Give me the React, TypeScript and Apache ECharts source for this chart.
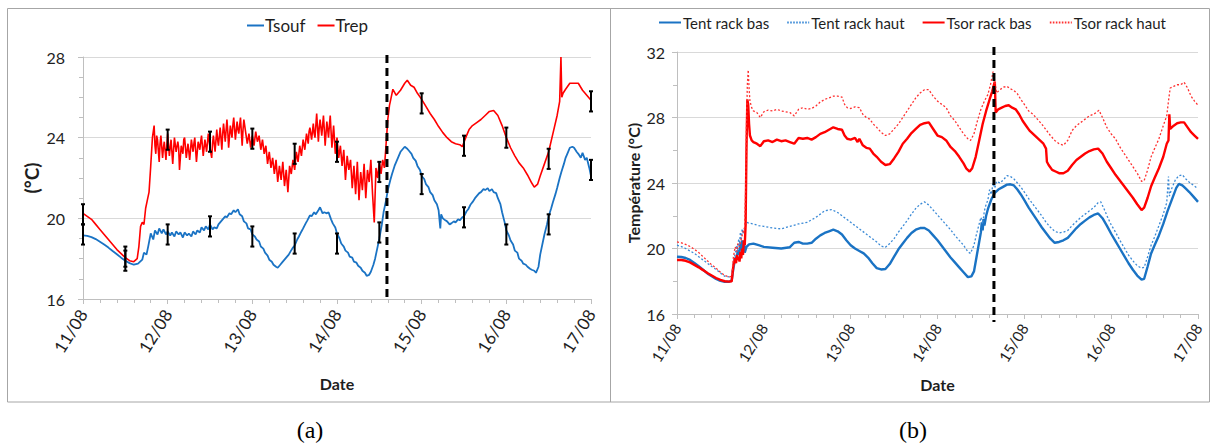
import React, { useEffect, useRef } from "react";
import * as echarts from "echarts";

const dateLabels = ["11/08", "12/08", "13/08", "14/08", "15/08", "16/08", "17/08"];

// ---- Chart (a) ----
const tsouf: number[][] = [
  [0, 19.15], [0.05, 19.13], [0.1, 19.07], [0.15, 18.97], [0.2, 18.84], [0.25, 18.7], [0.3, 18.55], [0.35, 18.38], [0.4, 18.22], [0.45, 18.05],
  [0.5, 17.9], [0.55, 17.78], [0.6, 17.7], [0.65, 17.75], [0.7, 17.95], [0.72, 18.3], [0.75, 18.2], [0.77, 18.6], [0.8, 19.25], [0.83, 18.95],
  [0.85, 19.4], [0.88, 19.2], [0.9, 19.5], [0.93, 19.25], [0.95, 19.45], [0.98, 19.2], [1.0, 19.35], [1.03, 19.15], [1.05, 19.3], [1.08, 19.1],
  [1.1, 19.35], [1.13, 19.2], [1.15, 19.3], [1.18, 19.05], [1.2, 19.3], [1.23, 19.15], [1.25, 19.25], [1.28, 19.1], [1.3, 19.35], [1.33, 19.2],
  [1.35, 19.4], [1.38, 19.3], [1.4, 19.55], [1.43, 19.4], [1.45, 19.6], [1.48, 19.45], [1.5, 19.7], [1.53, 19.45], [1.55, 19.55], [1.58, 19.5],
  [1.6, 19.7], [1.63, 19.85], [1.65, 19.95], [1.68, 20.1], [1.7, 20.05], [1.73, 20.25], [1.75, 20.2], [1.78, 20.4], [1.8, 20.3], [1.83, 20.45],
  [1.85, 20.2], [1.88, 20.1], [1.9, 19.85], [1.93, 19.75], [1.95, 19.5], [1.98, 19.45], [2.0, 19.2], [2.03, 19.1], [2.05, 18.95], [2.08, 18.85],
  [2.1, 18.6], [2.13, 18.5], [2.15, 18.3], [2.18, 18.15], [2.2, 17.95], [2.23, 17.85], [2.25, 17.7], [2.28, 17.6], [2.3, 17.55], [2.33, 17.7],
  [2.35, 17.8], [2.38, 17.95], [2.4, 18.05], [2.43, 18.2], [2.45, 18.35], [2.48, 18.55], [2.5, 18.65], [2.53, 18.95], [2.55, 19.1], [2.58, 19.35],
  [2.6, 19.5], [2.63, 19.75], [2.65, 19.9], [2.68, 20.15], [2.7, 20.1], [2.73, 20.3], [2.75, 20.2], [2.78, 20.4], [2.8, 20.55], [2.83, 20.25],
  [2.85, 20.3], [2.88, 20.25], [2.9, 20.3], [2.93, 19.95], [2.95, 19.75], [2.98, 19.55], [3.0, 19.25], [3.03, 19.0], [3.05, 18.75], [3.08, 18.6],
  [3.1, 18.4], [3.13, 18.3], [3.15, 18.1], [3.18, 18.05], [3.2, 17.85], [3.23, 17.8], [3.25, 17.65], [3.28, 17.55], [3.3, 17.4], [3.33, 17.3],
  [3.35, 17.15], [3.38, 17.2], [3.4, 17.35], [3.43, 17.7], [3.45, 18.0], [3.48, 18.6], [3.5, 19.0], [3.53, 19.7], [3.55, 20.3], [3.58, 20.9],
  [3.6, 21.4], [3.63, 21.9], [3.65, 22.2], [3.68, 22.6], [3.7, 22.8], [3.73, 23.1], [3.75, 23.3], [3.78, 23.45], [3.8, 23.55], [3.83, 23.45],
  [3.85, 23.35], [3.88, 23.2], [3.9, 23.0], [3.93, 22.85], [3.95, 22.6], [3.98, 22.4], [4.0, 22.1], [4.03, 21.95], [4.05, 21.7], [4.08, 21.55],
  [4.1, 21.3], [4.13, 21.15], [4.15, 20.9], [4.18, 20.7], [4.2, 20.4], [4.22, 19.5], [4.23, 20.2], [4.25, 20.0], [4.28, 19.9], [4.3, 19.85],
  [4.33, 19.7], [4.35, 19.75], [4.38, 19.85], [4.4, 19.8], [4.43, 19.95], [4.45, 19.9], [4.48, 20.05], [4.5, 20.1], [4.53, 20.35], [4.55, 20.45],
  [4.58, 20.7], [4.6, 20.8], [4.63, 21.0], [4.65, 21.1], [4.68, 21.25], [4.7, 21.3], [4.73, 21.45], [4.75, 21.4], [4.78, 21.5], [4.8, 21.35],
  [4.83, 21.45], [4.85, 21.3], [4.88, 21.25], [4.9, 21.0], [4.93, 20.7], [4.95, 20.3], [4.98, 19.8], [5.0, 19.4], [5.03, 19.15], [5.05, 18.9],
  [5.08, 18.7], [5.1, 18.4], [5.13, 18.3], [5.15, 18.0], [5.18, 17.9], [5.2, 17.75], [5.23, 17.7], [5.25, 17.6], [5.28, 17.5], [5.3, 17.45],
  [5.33, 17.4], [5.35, 17.3], [5.38, 17.6], [5.4, 18.2], [5.43, 18.8], [5.45, 19.2], [5.48, 19.7], [5.5, 20.1], [5.53, 20.5], [5.55, 20.8],
  [5.58, 21.2], [5.6, 21.5], [5.63, 22.0], [5.65, 22.3], [5.68, 22.7], [5.7, 23.0], [5.73, 23.3], [5.75, 23.5], [5.78, 23.55], [5.8, 23.5],
  [5.83, 23.3], [5.85, 23.2], [5.88, 23.0], [5.9, 23.25], [5.93, 22.9], [5.95, 23.0], [5.98, 22.5], [6.0, 22.1],
];

const trep: number[][] = [
  [0, 20.25], [0.05, 20.1], [0.1, 19.95], [0.15, 19.7], [0.2, 19.45], [0.25, 19.2], [0.3, 18.95], [0.35, 18.7], [0.4, 18.45], [0.45, 18.25],
  [0.5, 18.05], [0.55, 17.9], [0.6, 17.85], [0.64, 18.0], [0.66, 18.6], [0.68, 19.6], [0.7, 19.8], [0.72, 19.7], [0.74, 20.5], [0.76, 20.9],
  [0.78, 21.3], [0.8, 22.6], [0.82, 24.0],
  [0.84, 24.6], [0.85, 23.6], [0.86, 23.2], [0.87, 24.1], [0.88, 23.9], [0.9, 22.8], [0.91, 23.7], [0.92, 24.1], [0.94, 23.0], [0.95, 23.5],
  [0.96, 23.8], [0.98, 22.9], [0.99, 23.6], [1.0, 24.2], [1.02, 23.1], [1.03, 23.5], [1.04, 23.9], [1.06, 22.7], [1.07, 23.4], [1.08, 24.0],
  [1.1, 23.3], [1.12, 23.8], [1.13, 23.5], [1.14, 22.4], [1.16, 23.6], [1.18, 23.2], [1.19, 23.9], [1.2, 24.0], [1.22, 23.0], [1.24, 23.7],
  [1.25, 23.3], [1.26, 22.9], [1.28, 23.9], [1.3, 23.3], [1.31, 23.7], [1.32, 24.0], [1.34, 22.8], [1.36, 23.8], [1.38, 23.4], [1.39, 23.8],
  [1.4, 24.1], [1.42, 23.1], [1.44, 23.9], [1.45, 23.6], [1.46, 23.3], [1.48, 24.2], [1.5, 23.5], [1.52, 23.0], [1.53, 23.7], [1.54, 24.1],
  [1.56, 23.3], [1.58, 24.4], [1.59, 23.9], [1.6, 23.6], [1.62, 24.5], [1.64, 23.4], [1.65, 24.2], [1.66, 24.7], [1.68, 23.8], [1.7, 24.9],
  [1.71, 24.3], [1.72, 23.5], [1.74, 24.6], [1.76, 24.0], [1.77, 24.6], [1.78, 25.0], [1.8, 23.9], [1.82, 24.8], [1.83, 24.4], [1.84, 24.2],
  [1.86, 25.0], [1.88, 23.6], [1.89, 24.4], [1.9, 24.9], [1.92, 24.3], [1.94, 23.7], [1.96, 24.2], [1.98, 23.5], [2.0, 24.1], [2.02, 23.6],
  [2.04, 24.3], [2.06, 23.8], [2.08, 24.1], [2.1, 23.4], [2.12, 23.9], [2.14, 23.2], [2.16, 23.6], [2.18, 22.7], [2.2, 23.3], [2.22, 22.5],
  [2.24, 23.0], [2.26, 22.2], [2.28, 22.9], [2.3, 21.8], [2.32, 22.6], [2.34, 21.9], [2.36, 22.8], [2.38, 21.6], [2.4, 22.4], [2.42, 21.3],
  [2.44, 22.6], [2.46, 22.2], [2.48, 22.9], [2.5, 22.4], [2.52, 23.3], [2.54, 22.8], [2.56, 23.6], [2.58, 23.1], [2.6, 23.9], [2.62, 23.4],
  [2.64, 24.2], [2.66, 23.7], [2.67, 24.3], [2.68, 24.5], [2.7, 23.9], [2.72, 24.7], [2.73, 24.2], [2.74, 24.0], [2.76, 25.2], [2.78, 23.8],
  [2.79, 24.5], [2.8, 24.9], [2.82, 24.1], [2.84, 25.1], [2.85, 24.4], [2.86, 23.6], [2.88, 24.8], [2.9, 24.0], [2.91, 24.6], [2.92, 25.1],
  [2.94, 23.5], [2.96, 24.6], [2.98, 23.2], [3.0, 24.0], [3.02, 23.0], [3.04, 23.6], [3.06, 22.6], [3.08, 23.4], [3.1, 21.9], [3.12, 23.1],
  [3.14, 22.4], [3.16, 22.9], [3.18, 21.5], [3.2, 22.6], [3.22, 21.2], [3.24, 22.8], [3.26, 20.9], [3.28, 22.3], [3.3, 21.4], [3.32, 22.7],
  [3.34, 21.0], [3.36, 22.4], [3.38, 21.8], [3.4, 22.9], [3.42, 21.2], [3.44, 19.8], [3.46, 22.5], [3.48, 22.0], [3.5, 22.8], [3.52, 22.2],
  [3.54, 22.9], [3.56, 22.5], [3.58, 23.7], [3.6, 24.9], [3.62, 25.6],
  [3.64, 26.0], [3.66, 26.4], [3.7, 26.1], [3.75, 26.35], [3.8, 26.7], [3.83, 26.85], [3.87, 26.6], [3.91, 26.5], [3.95, 26.2], [4.0, 25.9],
  [4.05, 25.55], [4.1, 25.2], [4.15, 24.9], [4.2, 24.55], [4.25, 24.25], [4.3, 24.0], [4.35, 23.8], [4.4, 23.7], [4.45, 23.65], [4.48, 23.55],
  [4.52, 24.0], [4.56, 24.4], [4.6, 24.6], [4.65, 24.75], [4.7, 24.9], [4.75, 25.1], [4.8, 25.3], [4.85, 25.35], [4.9, 25.1], [4.95, 24.6],
  [5.0, 24.0], [5.05, 23.5], [5.1, 23.1], [5.15, 22.75], [5.2, 22.5], [5.25, 22.15], [5.3, 21.75], [5.33, 21.55], [5.37, 21.7], [5.4, 22.1],
  [5.45, 22.7], [5.5, 23.3], [5.55, 24.2], [5.6, 25.1], [5.63, 25.8], [5.645, 28.0], [5.655, 26.0], [5.67, 26.2], [5.7, 26.4], [5.75, 26.7],
  [5.8, 26.7], [5.85, 26.7], [5.9, 26.35], [5.95, 26.1], [6.0, 25.85],
];

const errDays = [0, 0.5, 1, 1.5, 2, 2.5, 3, 3.5, 4, 4.5, 5, 5.5, 6];
const tsoufErrCenter = [19.2, 17.9, 19.2, 19.6, 19.1, 18.75, 18.75, 19.3, 21.7, 20.05, 19.2, 19.7, 22.4];
const trepErrCenter = [20.2, 18.1, 23.9, 23.8, 23.95, 23.2, 23.3, 22.3, 25.7, 23.6, 24.0, 22.95, 25.8];
const errHalf = 0.5;
const switchDayA = 3.59;

// ---- Chart (b) ----
const tentBas: number[][] = [
  [0, 19.5], [0.05, 19.48], [0.1, 19.42], [0.15, 19.3], [0.2, 19.12], [0.25, 18.92], [0.3, 18.7], [0.35, 18.48], [0.4, 18.3], [0.45, 18.14],
  [0.5, 18.02], [0.55, 17.97], [0.6, 17.97], [0.63, 18.05], [0.65, 18.8], [0.67, 19.4], [0.69, 19.5], [0.7, 19.9], [0.71, 19.6], [0.72, 19.8],
  [0.73, 20.3], [0.74, 19.9], [0.75, 20.5], [0.76, 19.9], [0.77, 20.4], [0.78, 19.75], [0.8, 20.1], [0.83, 20.25], [0.88, 20.3], [0.94, 20.2],
  [1.0, 20.1], [1.1, 20.05], [1.2, 20.0], [1.3, 20.08], [1.35, 20.35], [1.4, 20.4], [1.45, 20.3], [1.5, 20.3], [1.55, 20.35], [1.6, 20.6],
  [1.65, 20.8], [1.7, 20.95], [1.75, 21.05], [1.8, 21.15], [1.85, 21.05], [1.9, 20.85], [1.95, 20.5], [2.0, 20.2], [2.05, 20.0], [2.1, 19.85],
  [2.15, 19.7], [2.2, 19.45], [2.25, 19.1], [2.3, 18.8], [2.35, 18.72], [2.4, 18.75], [2.45, 19.05], [2.5, 19.5], [2.55, 19.95], [2.6, 20.3],
  [2.65, 20.65], [2.7, 20.95], [2.75, 21.15], [2.8, 21.25], [2.85, 21.25], [2.9, 21.1], [2.95, 20.8], [3.0, 20.5], [3.05, 20.15], [3.1, 19.8],
  [3.15, 19.45], [3.2, 19.15], [3.25, 18.85], [3.3, 18.55], [3.35, 18.25], [3.39, 18.3], [3.42, 18.6], [3.45, 19.5], [3.48, 20.4], [3.5, 21.0],
  [3.51, 21.6], [3.52, 21.1], [3.53, 21.8], [3.54, 21.4], [3.56, 22.0], [3.58, 22.4], [3.62, 23.0], [3.66, 23.4], [3.7, 23.6], [3.75, 23.75],
  [3.8, 23.9], [3.84, 23.92], [3.88, 23.85], [3.92, 23.6], [3.96, 23.3], [4.0, 22.95], [4.05, 22.5], [4.1, 22.1], [4.15, 21.7], [4.2, 21.3],
  [4.25, 20.95], [4.3, 20.6], [4.35, 20.35], [4.4, 20.4], [4.45, 20.5], [4.5, 20.65], [4.55, 20.95], [4.6, 21.25], [4.65, 21.5], [4.7, 21.7],
  [4.75, 21.9], [4.8, 22.05], [4.85, 22.14], [4.9, 21.85], [4.95, 21.4], [5.0, 20.9], [5.05, 20.45], [5.1, 20.0], [5.15, 19.55], [5.2, 19.1],
  [5.25, 18.7], [5.3, 18.35], [5.35, 18.1], [5.38, 18.15], [5.42, 18.9], [5.46, 19.7], [5.5, 20.2], [5.55, 20.8], [5.6, 21.5], [5.65, 22.3],
  [5.7, 23.0], [5.75, 23.7], [5.78, 23.95], [5.82, 23.85], [5.86, 23.65], [5.9, 23.45], [5.95, 23.15], [6.0, 22.85],
];

const tentHaut: number[][] = [
  [0, 20.2], [0.05, 20.12], [0.1, 20.0], [0.15, 19.85], [0.2, 19.7], [0.25, 19.5], [0.3, 19.3], [0.35, 19.1], [0.4, 18.9], [0.45, 18.72],
  [0.5, 18.5], [0.55, 18.3], [0.6, 18.27], [0.63, 18.35], [0.65, 19.2], [0.67, 19.7], [0.69, 20.2], [0.7, 19.8], [0.71, 20.6], [0.72, 20.2],
  [0.73, 21.0], [0.74, 20.5], [0.75, 21.2], [0.76, 20.9], [0.78, 21.3], [0.8, 21.6], [0.83, 21.55], [0.88, 21.5], [0.94, 21.4], [1.0, 21.35],
  [1.1, 21.25], [1.2, 21.2], [1.3, 21.35], [1.4, 21.5], [1.5, 21.6], [1.6, 21.9], [1.65, 22.1], [1.7, 22.3], [1.78, 22.38], [1.85, 22.2],
  [1.9, 22.0], [1.95, 21.8], [2.0, 21.6], [2.05, 21.4], [2.1, 21.2], [2.15, 21.0], [2.2, 20.8], [2.25, 20.6], [2.3, 20.4], [2.35, 20.15],
  [2.4, 20.07], [2.45, 20.3], [2.5, 20.6], [2.55, 21.0], [2.6, 21.35], [2.65, 21.7], [2.7, 22.1], [2.75, 22.45], [2.8, 22.7], [2.85, 22.85],
  [2.9, 22.65], [2.95, 22.35], [3.0, 22.05], [3.05, 21.75], [3.1, 21.45], [3.15, 21.15], [3.2, 20.8], [3.25, 20.5], [3.3, 20.2], [3.35, 19.8],
  [3.38, 19.7], [3.42, 20.2], [3.45, 20.9], [3.48, 21.5], [3.5, 21.9], [3.52, 21.5], [3.54, 22.3], [3.56, 22.7], [3.58, 22.95], [3.6, 23.6],
  [3.62, 23.3], [3.64, 24.0], [3.66, 23.7], [3.68, 24.1], [3.72, 24.0], [3.76, 24.2], [3.8, 24.45], [3.84, 24.4], [3.88, 24.25], [3.92, 24.0],
  [3.96, 23.75], [4.0, 23.45], [4.05, 23.05], [4.1, 22.7], [4.15, 22.35], [4.2, 22.0], [4.25, 21.6], [4.3, 21.3], [4.35, 21.05], [4.4, 20.95],
  [4.45, 21.0], [4.5, 21.1], [4.55, 21.4], [4.6, 21.65], [4.65, 21.9], [4.7, 22.1], [4.75, 22.3], [4.8, 22.5], [4.85, 22.8], [4.88, 22.85],
  [4.92, 22.4], [4.96, 21.9], [5.0, 21.45], [5.05, 21.0], [5.1, 20.5], [5.15, 20.05], [5.2, 19.6], [5.25, 19.25], [5.3, 18.95], [5.35, 18.8],
  [5.38, 18.85], [5.42, 19.5], [5.46, 20.2], [5.5, 20.7], [5.55, 21.4], [5.6, 22.1], [5.64, 22.8], [5.66, 24.4], [5.67, 23.2], [5.7, 23.7],
  [5.74, 24.2], [5.78, 24.45], [5.82, 24.5], [5.86, 24.25], [5.9, 24.05], [5.95, 23.85], [6.0, 23.65],
];

const tsorBas: number[][] = [
  [0, 19.3], [0.05, 19.3], [0.1, 19.25], [0.15, 19.15], [0.2, 19.0], [0.25, 18.85], [0.3, 18.68], [0.35, 18.5], [0.4, 18.35], [0.45, 18.2],
  [0.5, 18.08], [0.55, 18.0], [0.6, 17.98], [0.63, 18.0], [0.65, 19.0], [0.67, 19.4], [0.68, 19.1], [0.69, 19.6], [0.7, 19.3], [0.71, 19.5],
  [0.72, 19.2], [0.73, 19.8], [0.74, 19.4], [0.75, 20.0], [0.76, 19.6], [0.77, 20.5], [0.78, 20.2], [0.79, 21.4], [0.8, 26.0], [0.81, 29.1],
  [0.82, 28.8], [0.83, 27.6], [0.84, 26.9], [0.86, 26.6], [0.88, 26.5], [0.92, 26.4], [0.96, 26.25], [1.0, 26.55], [1.05, 26.6], [1.1, 26.5],
  [1.15, 26.65], [1.2, 26.55], [1.25, 26.6], [1.3, 26.5], [1.35, 26.4], [1.4, 26.75], [1.45, 26.7], [1.5, 26.75], [1.55, 26.65], [1.6, 26.8],
  [1.65, 27.0], [1.7, 27.1], [1.75, 27.25], [1.8, 27.4], [1.85, 27.3], [1.9, 27.25], [1.93, 26.9], [1.96, 26.7], [2.0, 26.65], [2.05, 26.75],
  [2.08, 26.5], [2.1, 26.7], [2.14, 26.3], [2.18, 26.15], [2.22, 26.1], [2.26, 25.8], [2.3, 25.6], [2.35, 25.3], [2.4, 25.1], [2.45, 25.15],
  [2.5, 25.5], [2.55, 25.9], [2.6, 26.4], [2.65, 26.7], [2.7, 27.05], [2.75, 27.3], [2.8, 27.55], [2.85, 27.65], [2.9, 27.7], [2.95, 27.3],
  [3.0, 26.9], [3.05, 26.8], [3.1, 26.6], [3.15, 26.2], [3.2, 25.95], [3.25, 25.6], [3.3, 25.2], [3.33, 24.9], [3.37, 24.7], [3.4, 24.9],
  [3.44, 25.6], [3.48, 26.6], [3.52, 27.6], [3.56, 28.4], [3.6, 29.1], [3.63, 29.6], [3.66, 30.2], [3.67, 28.3], [3.7, 28.5], [3.74, 28.6],
  [3.78, 28.7], [3.82, 28.75], [3.86, 28.6], [3.9, 28.5], [3.94, 28.2], [3.98, 27.8], [4.02, 27.5], [4.06, 27.2], [4.1, 27.0], [4.14, 26.8],
  [4.18, 26.6], [4.22, 26.4], [4.25, 26.1], [4.26, 25.3], [4.28, 25.1], [4.32, 24.8], [4.36, 24.7], [4.4, 24.6], [4.45, 24.6], [4.5, 24.75],
  [4.55, 25.1], [4.6, 25.4], [4.65, 25.6], [4.7, 25.8], [4.75, 25.95], [4.8, 26.05], [4.85, 26.1], [4.9, 25.8], [4.95, 25.3], [5.0, 24.9],
  [5.05, 24.5], [5.1, 24.15], [5.15, 23.8], [5.2, 23.45], [5.25, 23.1], [5.3, 22.7], [5.35, 22.35], [5.38, 22.5], [5.42, 23.1], [5.46, 23.8],
  [5.5, 24.3], [5.55, 24.9], [5.6, 25.6], [5.64, 26.4], [5.66, 26.6], [5.67, 28.2], [5.68, 27.3], [5.72, 27.5], [5.76, 27.65], [5.8, 27.7],
  [5.84, 27.7], [5.88, 27.4], [5.92, 27.1], [5.96, 26.9], [6.0, 26.7],
];

const tsorHaut: number[][] = [
  [0, 20.4], [0.05, 20.35], [0.1, 20.25], [0.15, 20.12], [0.2, 19.95], [0.25, 19.75], [0.3, 19.5], [0.35, 19.25], [0.4, 19.0], [0.45, 18.8],
  [0.5, 18.55], [0.55, 18.35], [0.6, 18.27], [0.63, 18.3], [0.65, 19.5], [0.67, 20.1], [0.69, 19.8], [0.7, 20.3], [0.72, 20.1], [0.74, 20.6],
  [0.76, 21.0], [0.78, 21.3], [0.79, 23.5], [0.8, 27.5], [0.81, 30.0], [0.82, 30.9], [0.83, 29.8], [0.84, 29.0], [0.86, 28.6], [0.88, 28.4],
  [0.92, 28.3], [0.96, 28.0], [1.0, 28.35], [1.05, 28.45], [1.1, 28.4], [1.15, 28.5], [1.2, 28.4], [1.25, 28.35], [1.3, 28.3], [1.35, 28.1],
  [1.4, 28.5], [1.45, 28.6], [1.5, 28.5], [1.55, 28.55], [1.6, 28.7], [1.65, 28.95], [1.7, 29.1], [1.75, 29.2], [1.8, 29.3], [1.85, 29.3],
  [1.9, 29.25], [1.93, 28.8], [1.96, 28.6], [2.0, 28.55], [2.05, 28.65], [2.1, 28.6], [2.14, 28.2], [2.18, 28.0], [2.22, 27.9], [2.26, 27.6],
  [2.3, 27.4], [2.35, 27.1], [2.4, 26.9], [2.45, 27.0], [2.5, 27.3], [2.55, 27.6], [2.6, 28.0], [2.65, 28.4], [2.7, 28.8], [2.75, 29.2],
  [2.8, 29.5], [2.85, 29.7], [2.9, 29.7], [2.95, 29.3], [3.0, 29.0], [3.05, 28.8], [3.1, 28.6], [3.15, 28.1], [3.2, 27.8], [3.25, 27.4],
  [3.3, 27.0], [3.35, 26.7], [3.38, 26.6], [3.42, 27.0], [3.46, 27.8], [3.5, 28.5], [3.54, 29.0], [3.58, 29.4], [3.61, 30.0], [3.64, 30.8],
  [3.66, 30.2], [3.68, 29.5], [3.72, 29.7], [3.76, 29.85], [3.8, 29.9], [3.84, 29.75], [3.88, 29.65], [3.92, 29.45], [3.96, 29.1], [4.0, 28.8],
  [4.05, 28.4], [4.1, 28.2], [4.15, 27.9], [4.2, 27.6], [4.25, 27.25], [4.3, 26.9], [4.35, 26.6], [4.4, 26.4], [4.45, 26.3], [4.5, 26.6],
  [4.55, 27.2], [4.6, 27.5], [4.65, 27.7], [4.7, 27.9], [4.75, 28.1], [4.8, 28.2], [4.86, 28.44], [4.9, 28.0], [4.95, 27.4], [5.0, 27.0],
  [5.05, 26.7], [5.1, 26.2], [5.15, 25.8], [5.2, 25.4], [5.25, 25.0], [5.3, 24.6], [5.35, 24.1], [5.38, 24.15], [5.42, 24.8], [5.46, 25.6],
  [5.5, 26.1], [5.55, 26.7], [5.6, 27.5], [5.64, 28.1], [5.66, 29.0], [5.68, 29.8], [5.72, 29.9], [5.76, 30.0], [5.8, 30.0], [5.84, 30.15],
  [5.88, 29.8], [5.92, 29.3], [5.96, 29.0], [6.0, 28.75],
];

const switchDayB = 3.65;

const BLUE = "#1a73c4";
const BLUE_LIGHT = "#3b8ad6";
const RED = "#ff0000";
const RED_LIGHT = "#ff3030";
const FONT = "Lato, 'Liberation Sans', sans-serif";
const TXT = "#1e1e1e";
const AXISGRAY = "#bfbfbf";
const DOTTED_ICON = "path://M0 0H1.6V2H0Z M3 0H4.6V2H3Z M6 0H7.6V2H6Z M9 0H10.6V2H9Z M12 0H13.6V2H12Z M15 0H16.6V2H15Z M18 0H19.6V2H18Z M21 0H22V2H21Z";

function xAxisCfg(gridIndex: number, fontSize: number, margin: number, nameGap: number) {
  return {
    type: "value", gridIndex, min: 0, max: 6, interval: 1,
    name: "Date", nameLocation: "middle", nameGap,
    nameTextStyle: { fontFamily: FONT, fontWeight: "bold", fontSize: 16, color: TXT },
    axisLine: { show: true, lineStyle: { color: AXISGRAY, width: 1 } },
    axisTick: { show: true, length: 5, lineStyle: { color: AXISGRAY } },
    minorTick: { show: true, splitNumber: 5, length: 4, lineStyle: { color: AXISGRAY } },
    splitLine: { show: false },
    axisLabel: {
      rotate: 58, margin, fontFamily: FONT, fontSize, color: TXT,
      formatter: (v: number) => dateLabels[Math.round(v)] ?? "",
    },
  };
}

function yAxisCfg(gridIndex: number, min: number, max: number, minorSplit: number, name: string, nameSize: number, nameGap: number, margin: number) {
  return {
    type: "value", gridIndex, min, max, interval: 4,
    name, nameLocation: "middle", nameGap,
    nameTextStyle: { fontFamily: FONT, fontWeight: "bold", fontSize: nameSize, color: TXT },
    axisLine: { show: true, lineStyle: { color: AXISGRAY, width: 1 } },
    axisTick: { show: true, length: 5, lineStyle: { color: AXISGRAY } },
    minorTick: { show: true, splitNumber: minorSplit, length: 4, lineStyle: { color: AXISGRAY } },
    splitLine: { show: true, lineStyle: { color: "#d9d9d9", width: 1 } },
    axisLabel: { margin, fontFamily: FONT, fontSize: 16, color: TXT },
  };
}

function errorBarRender(params: any, api: any) {
  const x = api.value(0);
  const top = api.coord([x, api.value(2)]);
  const bot = api.coord([x, api.value(1)]);
  const w = 2;
  const st = { stroke: "#000", lineWidth: 2 };
  return {
    type: "group",
    children: [
      { type: "line", shape: { x1: top[0], y1: top[1], x2: bot[0], y2: bot[1] }, style: st },
      { type: "line", shape: { x1: top[0] - w, y1: top[1], x2: top[0] + w, y2: top[1] }, style: st },
      { type: "line", shape: { x1: bot[0] - w, y1: bot[1], x2: bot[0] + w, y2: bot[1] }, style: st },
    ],
  };
}

function dashRender(extraTop: number, extraBottom: number) {
  return (params: any, api: any) => {
    const x = api.value(0);
    const p1 = api.coord([x, api.value(2)]);
    const p2 = api.coord([x, api.value(1)]);
    return {
      type: "line",
      shape: { x1: p1[0], y1: p1[1] - extraTop, x2: p2[0], y2: p2[1] + extraBottom },
      style: { stroke: "#000", lineWidth: 3, lineDash: [8, 5] },
    };
  };
}

export default function App() {
  const ref = useRef<HTMLDivElement>(null);
  useEffect(() => {
    document.body.style.margin = "0";
    if (!ref.current) return;
    const chart = echarts.init(ref.current, undefined, { renderer: "svg" });
    const option: any = {
      animation: false,
      backgroundColor: "#ffffff",
      textStyle: { fontFamily: FONT },
      grid: [
        { left: 83, top: 57, width: 508, height: 242 },
        { left: 677, top: 52, width: 521, height: 262 },
      ],
      legend: [
        {
          data: [
            { name: "Tsouf", icon: "rect" },
            { name: "Trep", icon: "rect" },
          ],
          left: 247, top: 17, itemWidth: 17, itemHeight: 2, itemGap: 12,
          padding: 0, textStyle: { fontFamily: FONT, fontSize: 17, color: TXT, padding: [0, 0, 0, -4] },
        },
        {
          data: [
            { name: "Tent rack bas", icon: "rect" },
            { name: "Tent rack haut", icon: DOTTED_ICON },
            { name: "Tsor rack bas", icon: "rect" },
            { name: "Tsor rack haut", icon: DOTTED_ICON },
          ],
          left: 659, top: 15,
          itemWidth: 22, itemHeight: 2, itemGap: 18, padding: 0,
          textStyle: { fontFamily: FONT, fontSize: 15, color: TXT, padding: [0, 0, 0, -3] },
        },
      ],
      xAxis: [xAxisCfg(0, 17, 12, 76), xAxisCfg(1, 15, 11, 62)],
      yAxis: [
        yAxisCfg(0, 16, 28, 4, "(°C)", 19, 42, 18),
        yAxisCfg(1, 16, 32, 2, "Température (°C)", 16, 36, 12),
      ],
      series: [
        { name: "Tsouf", type: "line", xAxisIndex: 0, yAxisIndex: 0, data: tsouf, showSymbol: false, symbol: "none", lineStyle: { color: BLUE, width: 1.8 }, itemStyle: { color: BLUE } },
        { name: "Trep", type: "line", xAxisIndex: 0, yAxisIndex: 0, data: trep, showSymbol: false, symbol: "none", lineStyle: { color: RED, width: 1.6 }, itemStyle: { color: RED } },
        {
          name: "errTsouf", type: "custom", xAxisIndex: 0, yAxisIndex: 0, renderItem: errorBarRender,
          encode: { x: 0, y: [1, 2] }, z: 5,
          data: errDays.map((d, i) => [d, tsoufErrCenter[i] - errHalf, tsoufErrCenter[i] + errHalf]),
        },
        {
          name: "errTrep", type: "custom", xAxisIndex: 0, yAxisIndex: 0, renderItem: errorBarRender,
          encode: { x: 0, y: [1, 2] }, z: 5,
          data: errDays.map((d, i) => [d, trepErrCenter[i] - errHalf, trepErrCenter[i] + errHalf]),
        },
        {
          name: "switchA", type: "custom", xAxisIndex: 0, yAxisIndex: 0, renderItem: dashRender(2, 1),
          encode: { x: 0, y: [1, 2] }, z: 6, clip: false, data: [[switchDayA, 16, 28]],
        },
        { name: "Tent rack bas", type: "line", xAxisIndex: 1, yAxisIndex: 1, data: tentBas, showSymbol: false, symbol: "none", lineStyle: { color: BLUE, width: 2.4 }, itemStyle: { color: BLUE } },
        { name: "Tent rack haut", type: "line", xAxisIndex: 1, yAxisIndex: 1, data: tentHaut, showSymbol: false, symbol: "none", lineStyle: { color: BLUE_LIGHT, width: 1.3, type: [2, 2] }, itemStyle: { color: BLUE_LIGHT } },
        { name: "Tsor rack bas", type: "line", xAxisIndex: 1, yAxisIndex: 1, data: tsorBas, showSymbol: false, symbol: "none", lineStyle: { color: RED, width: 2.4 }, itemStyle: { color: RED } },
        { name: "Tsor rack haut", type: "line", xAxisIndex: 1, yAxisIndex: 1, data: tsorHaut, showSymbol: false, symbol: "none", lineStyle: { color: RED_LIGHT, width: 1.3, type: [2, 2] }, itemStyle: { color: RED_LIGHT } },
        {
          name: "switchB", type: "custom", xAxisIndex: 1, yAxisIndex: 1, renderItem: dashRender(5, 8),
          encode: { x: 0, y: [1, 2] }, z: 6, clip: false, data: [[switchDayB, 16, 32]],
        },
      ],
      graphic: [
        { type: "rect", shape: { x: 7.5, y: 8.5, width: 1202, height: 393.5 }, style: { fill: "none", stroke: "#a6a6a6", lineWidth: 1 }, silent: true },
        { type: "line", shape: { x1: 610.5, y1: 8.5, x2: 610.5, y2: 402 }, style: { stroke: "#a6a6a6", lineWidth: 1 }, silent: true },
        { type: "text", x: 310, y: 430, style: { text: "(a)", font: "24px 'Liberation Serif', 'DejaVu Serif', serif", fill: "#000", textAlign: "center", textVerticalAlign: "middle" } },
        { type: "text", x: 913, y: 430, style: { text: "(b)", font: "24px 'Liberation Serif', 'DejaVu Serif', serif", fill: "#000", textAlign: "center", textVerticalAlign: "middle" } },
      ],
    };
    chart.setOption(option);
    return () => chart.dispose();
  }, []);
  return <div ref={ref} style={{ position: "fixed", left: 0, top: 0, width: 1212, height: 444 }} />;
}
